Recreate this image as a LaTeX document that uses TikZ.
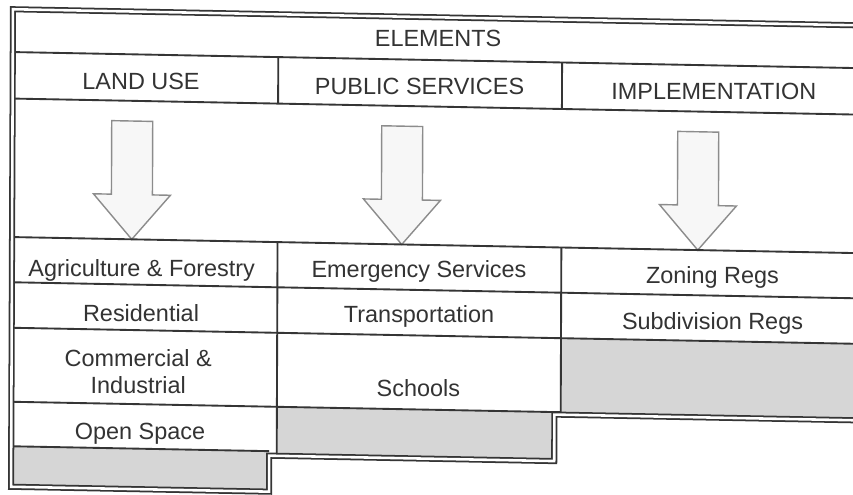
\documentclass[tikz,border=0pt]{standalone}
\usepackage{fontspec}
\setmainfont{Liberation Sans}
\definecolor{ink}{HTML}{333333}
\definecolor{rulecol}{HTML}{353535}
\definecolor{greyfill}{HTML}{D6D6D6}
\definecolor{arrowline}{HTML}{8C8C8C}
\definecolor{arrowfill}{HTML}{F7F7F7}
\tikzset{
  rulings/.style={draw=rulecol, line width=1.6pt},
  outerframe/.style={draw=rulecol, line width=1.5pt, double=white, double distance=2.2pt, line join=miter},
  celltext/.style={text=ink, font=\fontsize{20}{23.8}\selectfont, inner sep=0pt, anchor=base, align=center},
  bigarrow/.style={draw=arrowline, fill=arrowfill, line width=1.2pt, line join=miter},
  greycell/.style={fill=greyfill}
}
\begin{document}
\begin{tikzpicture}[x=0.03cm, y=-0.03cm]
  \useasboundingbox (0,0) rectangle (853,494);
  \fill[white] (0,0) rectangle (853,494);
  \clip (0,0) rectangle (853,494);
  \begin{scope}[cm={1,-0.019,0.004,1,(0,0)}]
    % shaded empty cells
    \fill[greycell] (13,446) rectangle (271,486.5);
    \fill[greycell] (278.5,401.5) rectangle (556,450.5);
    \fill[greycell] (562.3,327.5) rectangle (870,404);
    % hollow arrows
    \foreach \cx in {132.7,402.7,698.7}{
      \path[bigarrow] ({\cx-20.5},118.5) -- ({\cx+20.5},118.5) -- ({\cx+20.5},192)
        -- ({\cx+38.5},192) -- (\cx,236.8) -- ({\cx-38.5},192) -- ({\cx-20.5},192) -- cycle;
    }
    % table rulings
    \draw[rulings] (13,51.8) -- (870,51.8);
    \draw[rulings] (13,98.3) -- (870,98.3);
    \draw[rulings] (278.5,51.8) -- (278.5,98.3);
    \draw[rulings] (562.3,51.8) -- (562.3,98.3);
    \draw[rulings] (13,236.8) -- (870,236.8);
    \draw[rulings] (278.5,236.8) -- (278.5,450.5);
    \draw[rulings] (562.3,236.8) -- (562.3,404);
    \draw[rulings] (13,282) -- (870,282);
    \draw[rulings] (13,327.5) -- (870,327.5);
    \draw[rulings] (13,401.5) -- (562.3,401.5);
    \draw[rulings] (13,446) -- (271,446);
    % outer double frame
    \draw[outerframe] (870,9) -- (13,9) -- (13,486.5) -- (271,486.5) -- (271,450.5)
      -- (556,450.5) -- (556,404) -- (870,404);
    % texts
    \node[celltext] (elements) at (438.2,38.4) {ELEMENTS};
    \node[celltext] (landuse) at (141.4,87.3) {LAND USE};
    \node[celltext] (public) at (419.9,86.3) {PUBLIC SERVICES};
    \node[celltext] (impl) at (714.1,86.4) {IMPLEMENTATION};
    \node[celltext] (agri) at (142.8,273.3) {Agriculture \& Forestry};
    \node[celltext] (resid) at (142.3,318.3) {Residential};
    \node[celltext] (comm) at (139.8,391.3) {Commercial \&\\Industrial};
    \node[celltext] (open) at (141.7,436.6) {Open Space};
    \node[celltext] (emerg) at (420.1,270) {Emergency Services};
    \node[celltext] (trans) at (420.3,314.5) {Transportation};
    \node[celltext] (schools) at (419.9,388.8) {Schools};
    \node[celltext] (zoning) at (713.6,269.8) {Zoning Regs};
    \node[celltext] (subdiv) at (713.8,315.8) {Subdivision Regs};
  \end{scope}
\end{tikzpicture}
\end{document}
